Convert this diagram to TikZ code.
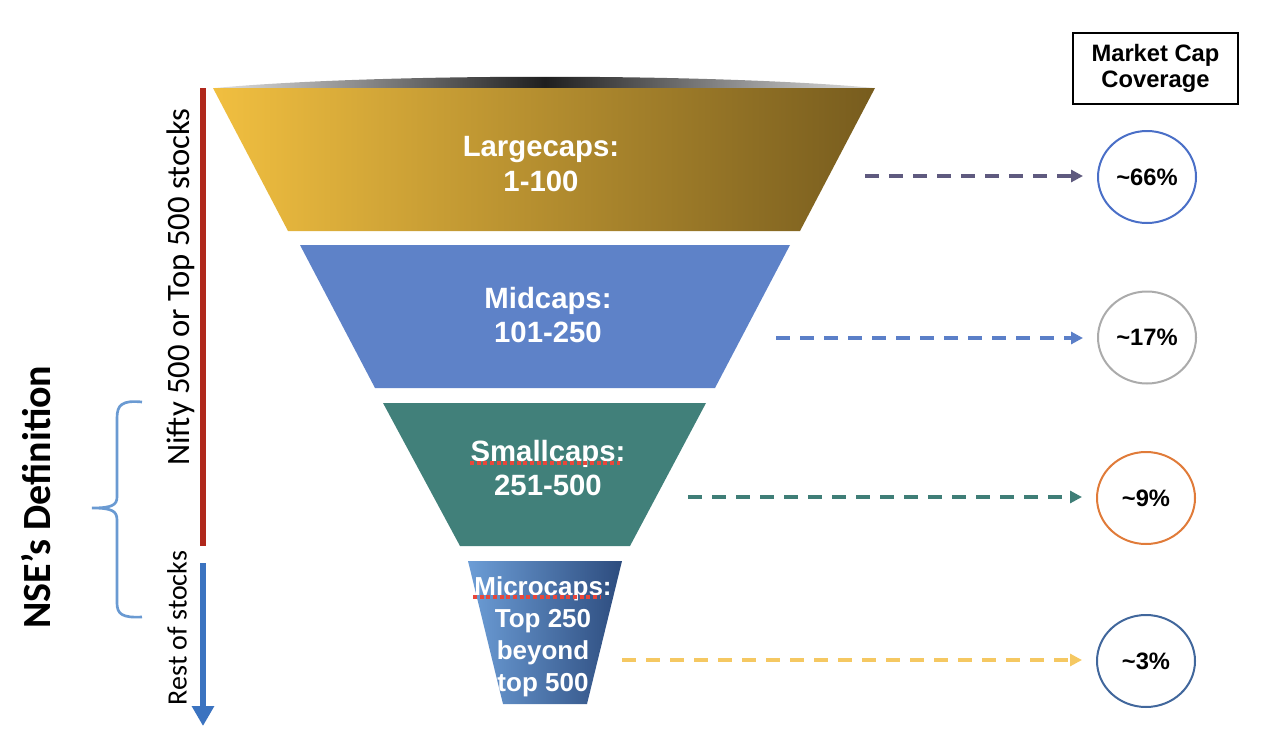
\documentclass[tikz,border=0pt]{standalone}
\usepackage{fontspec}
\setmainfont{Liberation Sans}
\newfontfamily\calfont{Carlito}
\usetikzlibrary{arrows.meta,shapes.geometric}
\definecolor{goldL}{HTML}{F1BF40}
\definecolor{goldR}{HTML}{775C1E}
\definecolor{midblue}{HTML}{5E82C8}
\definecolor{teal}{HTML}{41807A}
\definecolor{microL}{HTML}{6C9DD6}
\definecolor{microR}{HTML}{2D4C7E}
\definecolor{arrA}{HTML}{5F5A7F}
\definecolor{arrB}{HTML}{5B7FC8}
\definecolor{arrC}{HTML}{3F7E77}
\definecolor{arrD}{HTML}{F5C862}
\definecolor{cirA}{HTML}{4A6FC7}
\definecolor{cirB}{HTML}{ABABAB}
\definecolor{cirC}{HTML}{E07B39}
\definecolor{cirD}{HTML}{41679C}
\definecolor{barred}{HTML}{B0281C}
\definecolor{barblue}{HTML}{3B73C0}
\definecolor{bracecol}{HTML}{6A9AD2}
\definecolor{squig}{HTML}{E8473A}
\begin{document}
\begin{tikzpicture}[x=0.75pt,y=-0.75pt,
  funneltext/.style={text=white, font=\bfseries\fontsize{22}{26}\selectfont, align=center, inner sep=0pt},
  microtext/.style={text=white, font=\bfseries\fontsize{19.5}{24}\selectfont, align=center, inner sep=0pt},
  dasharrow/.style={line width=3pt, dash pattern=on 10.5pt off 7.5pt, -{Triangle[length=9pt,width=9pt]}, shorten >=10.5pt},
  pct/.style={ellipse, draw, line width=1.5pt, minimum width=73.5pt, minimum height=69pt, inner sep=0pt, font=\bfseries\fontsize{17.8}{20}\selectfont},
  squiggle/.style={squig, line width=2.5pt, dash pattern=on 3pt off 2pt}
]
\useasboundingbox (0,0) rectangle (1264,750);

% top rim
\shade[left color=gray!25, right color=gray!25, middle color=black!88]
  (215,88) .. controls (380,73) and (710,73) .. (875,88) -- cycle;

% funnel layers
\shade[left color=goldL, right color=goldR] (213,88) -- (875,88) -- (800,231) -- (288,231) -- cycle;
\fill[midblue] (300,245) -- (790,245) -- (715,388) -- (375,388) -- cycle;
\fill[teal] (383,403) -- (706,403) -- (630,546) -- (460,546) -- cycle;
\shade[left color=microL, right color=microR] (468,561) -- (622,561) -- (587,704) -- (503,704) -- cycle;

% funnel texts
\node[funneltext] (large) at (541,164) {Largecaps:\\1-100};
\node[funneltext] (mid) at (548,315) {Midcaps:\\101-250};
\node[funneltext] (small) at (548,468) {Smallcaps:\\251-500};
\node[microtext] (micro) at (543,637) {Microcaps:\\Top 250\\beyond\\top 500};

% spell-check underlines
\coordinate (u1a) at (470,463); \coordinate (u1b) at (620,463);
\coordinate (u2a) at (473,597); \coordinate (u2b) at (600,597);
\draw[squiggle] (u1a) -- (u1b);
\draw[squiggle] (u2a) -- (u2b);

% header box
\node[draw, line width=1.5pt, minimum width=123.75pt, minimum height=53.25pt, inner sep=0pt,
      font=\bfseries\fontsize{17.8}{19.5}\selectfont, align=center] (hdr) at (1155.5,68.5) {Market Cap\\Coverage};

% percentage ellipses
\node[pct, draw=cirA] (p1) at (1147,177) {\textasciitilde66\%};
\node[pct, draw=cirB] (p2) at (1147,337.5) {\textasciitilde17\%};
\node[pct, draw=cirC] (p3) at (1146,498) {\textasciitilde9\%};
\node[pct, draw=cirD] (p4) at (1146,661) {\textasciitilde3\%};

% dashed arrows
\coordinate (s1) at (865,176);
\coordinate (s2) at (776,338);
\coordinate (s3) at (688,497);
\coordinate (s4) at (622,660);
\draw[dasharrow, arrA] (s1) -- (s1 -| p1.west);
\draw[dasharrow, arrB] (s2) -- (s2 -| p2.west);
\draw[dasharrow, arrC] (s3) -- (s3 -| p3.west);
\draw[dasharrow, arrD] (s4) -- (s4 -| p4.west);

% left bars
\coordinate (rb1) at (203,88); \coordinate (rb2) at (203,546);
\draw[barred, line width=4.5pt] (rb1) -- (rb2);
\coordinate (bb1) at (203,563); \coordinate (bb2) at (203,726);
\draw[barblue, line width=4.5pt, -{Triangle[length=15pt,width=16pt]}] (bb1) -- (bb2);

\node[rotate=90, inner sep=0pt, font=\calfont\fontsize{24.5}{26}\selectfont] (nifty) at (181,287) {Nifty 500 or Top 500 stocks};
\node[rotate=90, inner sep=0pt, font=\calfont\fontsize{21}{24}\selectfont] (rest) at (177,628) {Rest of stocks};

% brace
\draw[bracecol, line width=2pt]
  (142,402) .. controls (122,400) and (117,405) .. (117,418) -- (117,497)
  .. controls (117,505) and (112,508) .. (92,508)
  .. controls (112,508) and (117,511) .. (117,520) -- (117,603)
  .. controls (117,614) and (122,618) .. (142,617);

\node[rotate=90, inner sep=0pt, font=\calfont\bfseries\fontsize{30}{32}\selectfont] (nse) at (36,497) {NSE’s Definition};
\end{tikzpicture}
\end{document}
